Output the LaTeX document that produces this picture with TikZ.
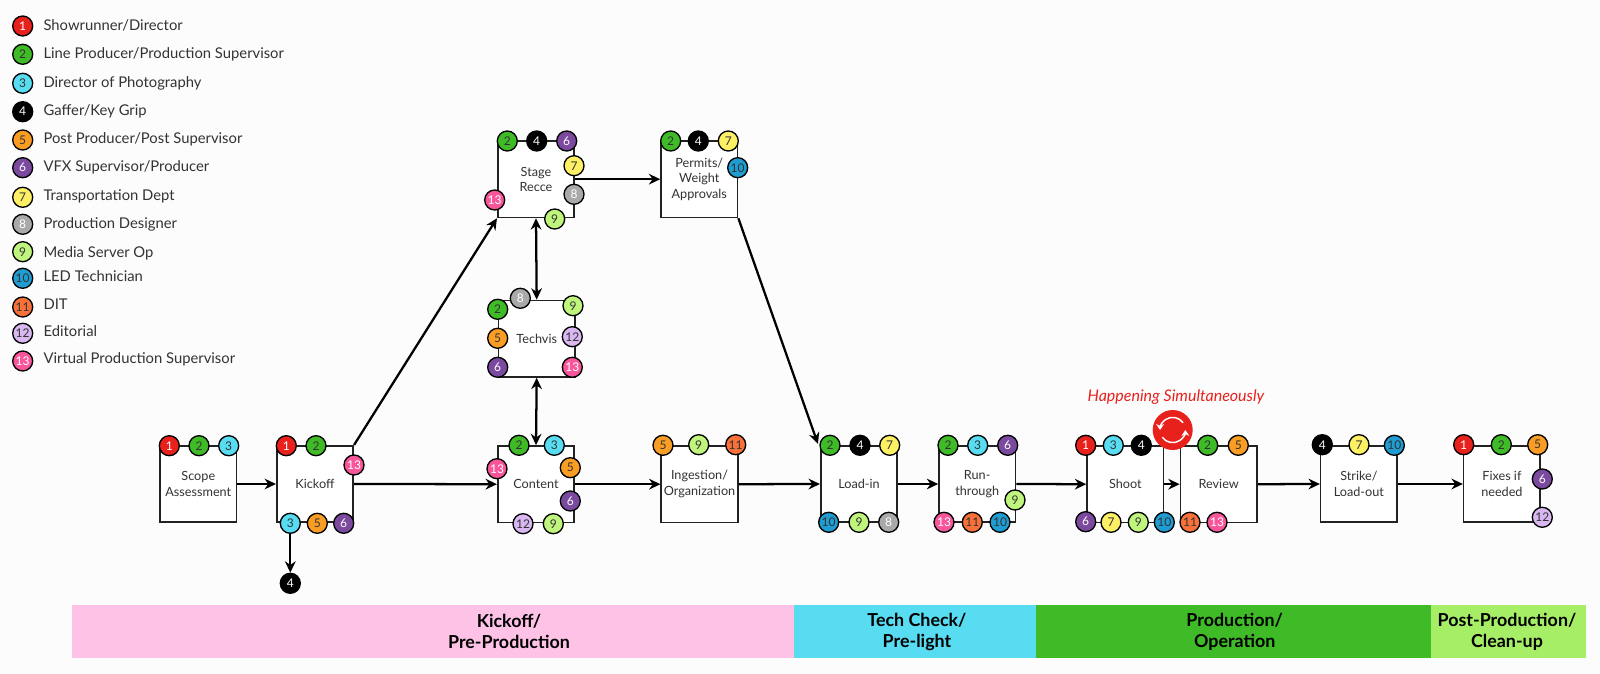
\documentclass[tikz,border=0pt]{standalone}
\usepackage{fontspec}
\setmainfont{Lato}
\usetikzlibrary{arrows.meta,calc}
\definecolor{pagebg}{HTML}{FCFCFC}
\definecolor{ink}{HTML}{333333}
\definecolor{line}{HTML}{222222}
\definecolor{c1}{HTML}{E8211D}
\definecolor{c2}{HTML}{3FBB27}
\definecolor{c3}{HTML}{58DCF2}
\definecolor{c4}{HTML}{000000}
\definecolor{c5}{HTML}{F99D25}
\definecolor{c6}{HTML}{7B4A9E}
\definecolor{c7}{HTML}{FDF064}
\definecolor{c8}{HTML}{A9A9A9}
\definecolor{c9}{HTML}{BFF57C}
\definecolor{c10}{HTML}{1F9DD3}
\definecolor{c11}{HTML}{F8703A}
\definecolor{c12}{HTML}{D9B8F2}
\definecolor{c13}{HTML}{F8559A}
\definecolor{bandpink}{HTML}{FDC2E6}
\definecolor{bandlime}{HTML}{A6EE66}
\tikzset{
  badge/.style={circle,draw=black,line width=1pt,minimum size=15pt,inner sep=0pt,font=\fontsize{9}{10}\selectfont},
  b1/.style={badge,fill=c1,text=white},
  b2/.style={badge,fill=c2,text=ink},
  b3/.style={badge,fill=c3,text=ink},
  b4/.style={badge,fill=c4,text=white},
  b5/.style={badge,fill=c5,text=ink},
  b6/.style={badge,fill=c6,text=white},
  b7/.style={badge,fill=c7,text=ink},
  b8/.style={badge,fill=c8,text=white},
  b9/.style={badge,fill=c9,text=ink},
  b10/.style={badge,fill=c10,text=ink},
  b11/.style={badge,fill=c11,text=ink},
  b12/.style={badge,fill=c12,text=ink},
  b13/.style={badge,fill=c13,text=white},
  taskbox/.style={draw=line,fill=white,line width=1.2pt,minimum width=57.4pt,minimum height=57.4pt,inner sep=0pt,align=center,text=ink,font=\fontsize{9.5}{11.6}\selectfont},
  legendtext/.style={anchor=base west,yshift=-3.5pt,inner sep=0pt,text=ink,font=\fontsize{11.1}{13}\selectfont},
  flow/.style={draw=black,line width=1.7pt,-{Stealth[length=8.5pt,width=8pt]}},
  flowboth/.style={draw=black,line width=1.7pt,{Stealth[length=8.5pt,width=8pt]}-{Stealth[length=8.5pt,width=8pt]}},
  band/.style={minimum height=40pt,inner sep=0pt,align=center,text=black,font=\fontsize{13.4}{16}\selectfont\bfseries},
}
\newcommand{\bdg}[4]{\node[b#4] (#1) at (#2,#3) {#4};}
\begin{document}
\begin{tikzpicture}[x=0.75pt,y=-0.75pt]
\fill[pagebg] (0,0) rectangle (1600,674);
\useasboundingbox (0,0) rectangle (1600,674);
% legend
\bdg{l1}{22.7}{26}{1}\node[legendtext] (t1) at (43.3,26) {Showrunner/Director};
\bdg{l2}{22.7}{54.3}{2}\node[legendtext] (t2) at (43.3,54.3) {Line Producer/Production Supervisor};
\bdg{l3}{22.7}{83.3}{3}\node[legendtext] (t3) at (43.3,83) {Director of Photography};
\bdg{l4}{22.7}{111.7}{4}\node[legendtext] (t4) at (43.3,111) {Gaffer/Key Grip};
\bdg{l5}{22.7}{140}{5}\node[legendtext] (t5) at (43.3,139) {Post Producer/Post Supervisor};
\bdg{l6}{22.7}{167.7}{6}\node[legendtext] (t6) at (43.3,167) {VFX Supervisor/Producer};
\bdg{l7}{22.7}{197.3}{7}\node[legendtext] (t7) at (43.3,195.7) {Transportation Dept};
\bdg{l8}{22.7}{224.3}{8}\node[legendtext] (t8) at (43.3,224.3) {Production Designer};
\bdg{l9}{22.7}{251.7}{9}\node[legendtext] (t9) at (43.3,252.7) {Media Server Op};
\bdg{l10}{22.7}{278.3}{10}\node[legendtext] (t10) at (43.3,277.3) {LED Technician};
\bdg{l11}{22.7}{307}{11}\node[legendtext] (t11) at (43.3,305.3) {DIT};
\bdg{l12}{22.7}{333.3}{12}\node[legendtext] (t12) at (43.3,331.7) {Editorial};
\bdg{l13}{22.7}{361}{13}\node[legendtext] (t13) at (43.3,359.3) {Virtual Production Supervisor};
% task boxes
\node[taskbox] (scope) at (198.3,484) {Scope\\Assessment};
\node[taskbox] (kickoff) at (315,484) {Kickoff};
\node[taskbox] (stage) at (536,179.2) {Stage\\Recce};
\node[taskbox] (permits) at (699.3,179.2) {Permits/\\Weight\\Approvals};
\node[taskbox] (techvis) at (536.7,338.7) {Techvis};
\node[taskbox] (content) at (536,484.2) {Content};
\node[taskbox] (ingest) at (699.5,484.2) {Ingestion/\\Organization};
\node[taskbox] (loadin) at (859,484) {Load-in};
\node[taskbox] (run) at (977.2,484) {Run-\\through};
\node[taskbox] (shoot) at (1125.3,484.2) {Shoot};
\node[taskbox] (review) at (1218.7,484.2) {Review};
\node[taskbox] (strike) at (1358.9,484) {Strike/\\Load-out};
\node[taskbox] (fixes) at (1501.9,484) {Fixes if\\needed};
% connectors
\draw[flow] (scope.east) -- (kickoff.west);
\draw[flow] (kickoff.north east) -- (stage.south west);
\draw[flow] (kickoff.east) -- (content.west);
\draw[flow] (stage.east) -- (permits.west);
\draw[flowboth] (stage.south) -- (techvis.north);
\draw[flowboth] (techvis.south) -- (content.north);
\draw[flow] (content.east) -- (ingest.west);
\draw[flow] (ingest.east) -- (loadin.west);
\draw[flow] (permits.south east) -- ([shift={(-2,-1)}]loadin.north west);
\draw[flow] (loadin.east) -- (run.west);
\draw[flow] (run.east) -- (shoot.west);
\draw[flow] (shoot.east) -- (review.west);
\draw[flow] (review.east) -- (strike.west);
\draw[flow] (strike.east) -- (fixes.west);
% badges
\bdg{s1}{169.3}{445.7}{1}\bdg{s2}{199}{445.7}{2}\bdg{s3}{228.7}{445.7}{3}
\bdg{k1}{286.3}{445.7}{1}\bdg{k2}{316}{445.7}{2}\bdg{k13}{354}{465}{13}
\bdg{k3}{290.3}{523.3}{3}\bdg{k5}{317.3}{523.3}{5}\bdg{k6}{343.7}{523.3}{6}
\bdg{k4}{290.3}{583.3}{4}
\draw[flow] (k3) -- (k4);
\bdg{sr2}{507.3}{141}{2}\bdg{sr4}{536.7}{141}{4}\bdg{sr6}{566.7}{141}{6}
\bdg{sr7}{574}{165.7}{7}\bdg{sr8}{574}{194.3}{8}\bdg{sr9}{554.7}{219}{9}\bdg{sr13}{494.7}{200}{13}
\bdg{p2}{670.7}{141}{2}\bdg{p4}{698.3}{141}{4}\bdg{p7}{728.3}{141}{7}\bdg{p10}{737.7}{167.7}{10}
\bdg{tv8}{520.3}{298.3}{8}\bdg{tv9}{573}{305.7}{9}\bdg{tv12}{572.3}{336.7}{12}\bdg{tv13}{572.3}{367.3}{13}
\bdg{tv2}{497.7}{309.3}{2}\bdg{tv5}{497.7}{338.3}{5}\bdg{tv6}{497.7}{367.3}{6}
\bdg{c2n}{519}{445.3}{2}\bdg{c3n}{554.3}{445.3}{3}\bdg{c13n}{497}{468.7}{13}\bdg{c5n}{570.3}{467.7}{5}
\bdg{c6n}{570.3}{501}{6}\bdg{c12n}{523}{523.7}{12}\bdg{c9n}{553.3}{523.7}{9}
\bdg{i5}{663}{445.3}{5}\bdg{i9}{698.7}{444.7}{9}\bdg{i11}{735.7}{444.7}{11}
\bdg{li2}{830}{445.3}{2}\bdg{li4}{860}{445.3}{4}\bdg{li7}{889.7}{445.3}{7}
\bdg{li10}{828.7}{522.3}{10}\bdg{li9}{859}{522.3}{9}\bdg{li8}{888.7}{522.3}{8}
\bdg{r2}{948}{445.3}{2}\bdg{r3}{977.7}{445.3}{3}\bdg{r6}{1007.7}{445.3}{6}
\bdg{r13}{944}{522.3}{13}\bdg{r11}{972.3}{522.3}{11}\bdg{r10}{1000}{522.3}{10}\bdg{r9}{1015}{500}{9}
\bdg{sh1}{1085.7}{445.3}{1}\bdg{sh3}{1113.3}{445.3}{3}\bdg{sh4}{1141.3}{445.3}{4}
\bdg{sh6}{1085.7}{521.7}{6}\bdg{sh7}{1111}{522.3}{7}\bdg{sh9}{1138.3}{522.3}{9}\bdg{sh10}{1164.3}{522.3}{10}
\bdg{rv2}{1207.7}{445.3}{2}\bdg{rv5}{1238.3}{445.3}{5}\bdg{rv11}{1190}{522.3}{11}\bdg{rv13}{1217}{522.3}{13}
\bdg{st4}{1322.3}{444.7}{4}\bdg{st7}{1359}{444.7}{7}\bdg{st10}{1394.3}{445.3}{10}
\bdg{f1}{1463.7}{444.7}{1}\bdg{f2}{1501.3}{444.7}{2}\bdg{f5}{1537.7}{444.7}{5}\bdg{f6}{1542.3}{479}{6}\bdg{f12}{1542.3}{517.3}{12}
% simultaneous marker
\node[circle,fill=c1,minimum size=30pt,inner sep=0pt] (sync) at (1172.7,430) {};
\draw[white,line width=1.1pt,-{Stealth[length=4.5pt,width=6pt]}] (sync.center) ++(35:9.5pt) arc [start angle=35,end angle=180,radius=9.5pt];
\draw[white,line width=1.1pt,-{Stealth[length=4.5pt,width=6pt]}] (sync.center) ++(215:9.5pt) arc [start angle=215,end angle=360,radius=9.5pt];
\node[text=c1,inner sep=0pt,font=\fontsize{12}{14}\selectfont\itshape] (simul) at (1176,396.7) {Happening Simultaneously};
% bands
\fill[bandpink] (72,605) rectangle (794,658.3);
\fill[c3] (794,605) rectangle (1035.7,658.3);
\fill[c2] (1035.7,605) rectangle (1430.6,658.3);
\fill[bandlime] (1430.6,605) rectangle (1585.7,658.3);
\node[band] (bk) at (509,631.7) {Kickoff/\\Pre-Production};
\node[band] (bt) at (917,631.7) {Tech Check/\\Pre-light};
\node[band] (bp) at (1234.7,631.7) {Production/\\Operation};
\node[band] (bc) at (1507,631.7) {Post-Production/\\Clean-up};
\end{tikzpicture}
\end{document}
